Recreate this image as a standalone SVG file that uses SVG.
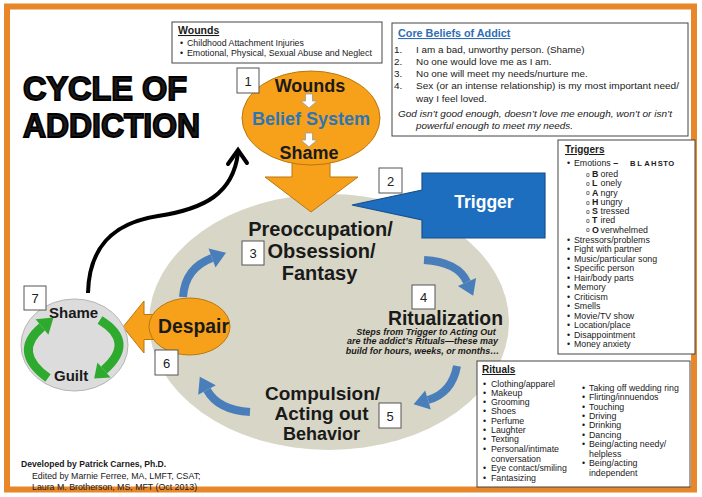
<svg xmlns="http://www.w3.org/2000/svg" width="702" height="497" viewBox="0 0 702 497">
<style>
.t{font-family:'Liberation Sans',Arial,sans-serif;fill:#1a1a1a}
.b{font-weight:bold}
.i{font-style:italic}
.u{text-decoration:underline}
.s9{font-size:8.8px}
.s10{font-size:9.9px}
.box{fill:#fff;stroke:#444;stroke-width:1}
.nb{fill:#fff;stroke:#555;stroke-width:1}
.num{font-family:'Liberation Sans',Arial,sans-serif;font-size:13px;fill:#222;text-anchor:middle}
.big{font-family:'Liberation Sans',Arial,sans-serif;font-weight:bold;fill:#1a1a1a;text-anchor:middle}
.org{fill:#F7A11B;stroke:#B9770E;stroke-width:1}
.blue{fill:none;stroke:#4A7EBB;stroke-width:8}
.bluehead{fill:#4A7EBB}
.green{fill:none;stroke:#2EAA2E;stroke-width:9}
.greenhead{fill:#2EAA2E}
.sub{font-family:'Liberation Sans',Arial,sans-serif;font-size:6.5px;fill:#1a1a1a}
</style>
<rect x="0" y="0" width="702" height="497" fill="#fff"/>
<rect x="7" y="6.5" width="687" height="483" fill="#fff" stroke="#E8872A" stroke-width="6"/>

<g id="title">
<text class="t b" x="23" y="100" font-size="34" stroke="#000" stroke-width="1.8" textLength="164" lengthAdjust="spacingAndGlyphs" fill="#000">CYCLE OF</text>
<text class="t b" x="23" y="137" font-size="34" stroke="#000" stroke-width="1.8" textLength="177" lengthAdjust="spacingAndGlyphs" fill="#000">ADDICTION</text>
</g>

<g id="wounds-box">
<rect class="box" x="172" y="22" width="210" height="41"/>
<text class="t b u" x="178" y="34" font-size="10.5">Wounds</text>
<text class="t s9" x="180" y="46">•</text><text class="t s9" x="187" y="46">Childhood Attachment Injuries</text>
<text class="t s9" x="180" y="56">•</text><text class="t s9" x="187" y="56">Emotional, Physical, Sexual Abuse and Neglect</text>
</g>

<g id="core-beliefs">
<rect class="box" x="392" y="23" width="296" height="113"/>
<text class="t b u" x="398" y="37" font-size="10.8" style="fill:#2F6DB5">Core Beliefs of Addict</text>
<text class="t s10" x="394" y="53">1.</text><text class="t s10" x="416" y="53">I am a bad, unworthy person. (Shame)</text>
<text class="t s10" x="394" y="65">2.</text><text class="t s10" x="416" y="65">No one would love me as I am.</text>
<text class="t s10" x="394" y="77">3.</text><text class="t s10" x="416" y="77">No one will meet my needs/nurture me.</text>
<text class="t s10" x="394" y="89">4.</text><text class="t s10" x="416" y="89" textLength="263" lengthAdjust="spacingAndGlyphs">Sex (or an intense relationship) is my most important need/</text>
<text class="t s10" x="416" y="102">way I feel loved.</text>
<text class="t s10 i" x="398" y="117" textLength="274" lengthAdjust="spacingAndGlyphs">God isn’t good enough, doesn’t love me enough, won’t or isn’t</text>
<text class="t s10 i" x="416" y="129">powerful enough to meet my needs.</text>
</g>

<g id="triggers-box">
<rect class="box" x="558" y="140" width="137" height="214"/>
<text class="t b u" x="565" y="153" font-size="10">Triggers</text>
<text class="t s9" x="567" y="166">•</text><text class="t s9" x="574" y="166">Emotions <tspan class="b">–</tspan></text>
<text class="t b" x="630 637.3 644.3 651 657.7 663.3 668.3" y="166" font-size="7.6">BLAHSTO</text>
<text class="sub" x="586" y="176.5">o</text><text class="t s9" y="177"><tspan x="592" class="b">B</tspan><tspan x="600.5">ored</tspan></text>
<text class="sub" x="586" y="185.8">o</text><text class="t s9" y="186.3"><tspan x="592" class="b">L</tspan><tspan x="600.5">onely</tspan></text>
<text class="sub" x="586" y="195">o</text><text class="t s9" y="195.5"><tspan x="592" class="b">A</tspan><tspan x="600.5">ngry</tspan></text>
<text class="sub" x="586" y="204.5">o</text><text class="t s9" y="205"><tspan x="592" class="b">H</tspan><tspan x="600.5">ungry</tspan></text>
<text class="sub" x="586" y="213.8">o</text><text class="t s9" y="214.3"><tspan x="592" class="b">S</tspan><tspan x="600.5">tressed</tspan></text>
<text class="sub" x="586" y="222.8">o</text><text class="t s9" y="223.3"><tspan x="592" class="b">T</tspan><tspan x="600.5">ired</tspan></text>
<text class="sub" x="586" y="232.2">o</text><text class="t s9" y="232.7"><tspan x="592" class="b">O</tspan><tspan x="600.5">verwhelmed</tspan></text>
<text class="t s9" x="567" y="242.7">•</text><text class="t s9" x="574" y="242.7">Stressors/problems</text>
<text class="t s9" x="567" y="252">•</text><text class="t s9" x="574" y="252">Fight with partner</text>
<text class="t s9" x="567" y="261.5">•</text><text class="t s9" x="574" y="261.5">Music/particular song</text>
<text class="t s9" x="567" y="271">•</text><text class="t s9" x="574" y="271">Specific person</text>
<text class="t s9" x="567" y="280.5">•</text><text class="t s9" x="574" y="280.5">Hair/body parts</text>
<text class="t s9" x="567" y="290">•</text><text class="t s9" x="574" y="290">Memory</text>
<text class="t s9" x="567" y="299.5">•</text><text class="t s9" x="574" y="299.5">Criticism</text>
<text class="t s9" x="567" y="309">•</text><text class="t s9" x="574" y="309">Smells</text>
<text class="t s9" x="567" y="318.5">•</text><text class="t s9" x="574" y="318.5">Movie/TV show</text>
<text class="t s9" x="567" y="328">•</text><text class="t s9" x="574" y="328">Location/place</text>
<text class="t s9" x="567" y="337.5">•</text><text class="t s9" x="574" y="337.5">Disappointment</text>
<text class="t s9" x="567" y="347">•</text><text class="t s9" x="574" y="347">Money anxiety</text>
</g>

<g id="cycle-ellipse">
<ellipse cx="329" cy="322" rx="180" ry="128" fill="#D8D6C6"/>
</g>

<g id="connectors">
<path class="blue" d="M183,297 Q185,268 212,258"/>
<polygon class="bluehead" points="226,252.8 215.5,267.4 208.5,248.6"/>
<path class="blue" d="M424,260 Q458,262 467,282"/>
<polygon class="bluehead" points="473.2,295.7 457.9,286.1 476.1,277.9"/>
<path class="blue" d="M457,366 Q452,393 428,400"/>
<polygon class="bluehead" points="413.6,404.2 425.2,390.4 430.8,409.6"/>
<path class="blue" d="M250,412 Q218,410 207,390"/>
<polygon class="bluehead" points="199.8,376.8 215.8,385.2 198.2,394.8"/>
<path d="M88,293 C89,248 112,223 158,216 C204,209 233,194 238,153" fill="none" stroke="#000" stroke-width="4"/>
<path d="M228,164 L238,150 L247,163" fill="none" stroke="#000" stroke-width="4" stroke-linecap="round"/>
<polygon class="org" points="292,158 330,158 330,177 358,177 311,212 265,177 292,177"/>
<polygon class="org" points="123,327 144,301 144,314.5 162,314.5 162,339.5 144,339.5 144,353"/>
</g>

<g id="rituals-box">
<rect class="box" x="477" y="361" width="213" height="126"/>
<text class="t b u" x="482" y="373" font-size="10">Rituals</text>
<text class="t s9" x="483" y="386.5">•</text><text class="t s9" x="491" y="386.5">Clothing/apparel</text>
<text class="t s9" x="483" y="395.8">•</text><text class="t s9" x="491" y="395.8">Makeup</text>
<text class="t s9" x="483" y="405.1">•</text><text class="t s9" x="491" y="405.1">Grooming</text>
<text class="t s9" x="483" y="414.4">•</text><text class="t s9" x="491" y="414.4">Shoes</text>
<text class="t s9" x="483" y="423.7">•</text><text class="t s9" x="491" y="423.7">Perfume</text>
<text class="t s9" x="483" y="433">•</text><text class="t s9" x="491" y="433">Laughter</text>
<text class="t s9" x="483" y="442.3">•</text><text class="t s9" x="491" y="442.3">Texting</text>
<text class="t s9" x="483" y="452">•</text><text class="t s9" x="491" y="452">Personal/intimate</text>
<text class="t s9" x="491" y="461.5">conversation</text>
<text class="t s9" x="483" y="471">•</text><text class="t s9" x="491" y="471">Eye contact/smiling</text>
<text class="t s9" x="483" y="480.5">•</text><text class="t s9" x="491" y="480.5">Fantasizing</text>
<text class="t s9" x="582" y="391">•</text><text class="t s9" x="589" y="391">Taking off wedding ring</text>
<text class="t s9" x="582" y="400.3">•</text><text class="t s9" x="589" y="400.3">Flirting/innuendos</text>
<text class="t s9" x="582" y="409.6">•</text><text class="t s9" x="589" y="409.6">Touching</text>
<text class="t s9" x="582" y="418.9">•</text><text class="t s9" x="589" y="418.9">Driving</text>
<text class="t s9" x="582" y="428.2">•</text><text class="t s9" x="589" y="428.2">Drinking</text>
<text class="t s9" x="582" y="437.5">•</text><text class="t s9" x="589" y="437.5">Dancing</text>
<text class="t s9" x="582" y="447">•</text><text class="t s9" x="589" y="447">Being/acting needy/</text>
<text class="t s9" x="589" y="456.5">helpless</text>
<text class="t s9" x="582" y="466">•</text><text class="t s9" x="589" y="466">Being/acting</text>
<text class="t s9" x="589" y="475.5">independent</text>
</g>

<g id="node-1-wounds-belief-shame">
<ellipse class="org" cx="311" cy="118" rx="69" ry="47"/>
<text class="big" x="310" y="92" font-size="18">Wounds</text>
<path d="M305.5,94 h7 v7 h4.5 l-8,7 l-8,-7 h4.5 z" fill="#fff" stroke="#999" stroke-width="0.8"/>
<text class="big" x="311" y="125" font-size="18" style="fill:#2E75B6">Belief System</text>
<path d="M305.5,133 h7 v7 h4.5 l-8,7 l-8,-7 h4.5 z" fill="#fff" stroke="#999" stroke-width="0.8"/>
<text class="big" x="309" y="159" font-size="18">Shame</text>
</g>

<g id="node-2-trigger">
<path d="M422,173 H545 V238 H422 V220 L352,205 L422,190 Z" fill="#1E6EC0" stroke="#17508C" stroke-width="1.2"/>
<text class="big" x="484" y="208" font-size="17.5" style="fill:#fff">Trigger</text>
</g>

<g id="node-6-despair">
<ellipse class="org" cx="189.5" cy="326.5" rx="40.5" ry="28.5"/>
<text class="t b" x="158" y="332.5" font-size="19.5" textLength="71" lengthAdjust="spacingAndGlyphs">Despair</text>
</g>

<g id="node-7-shame-guilt">
<ellipse cx="74.5" cy="345" rx="53.5" ry="46" fill="#DCDCDC" stroke="#B5B5B5" stroke-width="1"/>
<path class="green" d="M48,378 Q12,352 42,327"/>
<polygon class="greenhead" points="53.5,317.4 48.4,334.7 35.6,319.3"/>
<path class="green" d="M100,320 Q136,342 104,370"/>
<polygon class="greenhead" points="94.2,378.6 97.4,362.5 110.6,377.5"/>
<text class="t b" x="49" y="318" font-size="15">Shame</text>
<text class="t b" x="54" y="381" font-size="15">Guilt</text>
</g>

<g id="node-3-preoccupation">
<text class="big" x="320.5" y="236" font-size="20">Preoccupation/</text>
<text class="big" x="321.5" y="258" font-size="20" textLength="108" lengthAdjust="spacingAndGlyphs">Obsession/</text>
<text class="big" x="319.5" y="279.5" font-size="20">Fantasy</text>
</g>

<g id="node-4-ritualization">
<text class="big" x="445.5" y="324.5" font-size="20" textLength="115" lengthAdjust="spacingAndGlyphs">Ritualization</text>
<text class="t b i" x="426" y="335" font-size="9" text-anchor="middle">Steps from Trigger to Acting Out</text>
<text class="t b i" x="422.5" y="344.3" font-size="9" text-anchor="middle" textLength="151" lengthAdjust="spacingAndGlyphs">are the addict’s Rituals—these may</text>
<text class="t b i" x="422.5" y="353.6" font-size="9" text-anchor="middle">build for hours, weeks, or months…</text>
</g>

<g id="node-5-compulsion">
<text class="big" x="322.5" y="400" font-size="19">Compulsion/</text>
<text class="big" x="321.5" y="419.5" font-size="19">Acting out</text>
<text class="big" x="321.5" y="439.5" font-size="19" textLength="77" lengthAdjust="spacingAndGlyphs">Behavior</text>
</g>

<g id="number-boxes">
<rect class="nb" x="237" y="68" width="22" height="25"/><text class="num" x="248" y="85.5">1</text>
<rect class="nb" x="379" y="168" width="23" height="25"/><text class="num" x="390.5" y="185.5">2</text>
<rect class="nb" x="242" y="241" width="22" height="24"/><text class="num" x="253" y="258">3</text>
<rect class="nb" x="412" y="285" width="23" height="24"/><text class="num" x="423.5" y="302">4</text>
<rect class="nb" x="379" y="403" width="22" height="25"/><text class="num" x="390" y="420.5">5</text>
<rect class="nb" x="155" y="350" width="23" height="25"/><text class="num" x="166.5" y="367.5">6</text>
<rect class="nb" x="24" y="286" width="22" height="24"/><text class="num" x="35" y="303">7</text>
</g>

<g id="credits">
<text class="t b" x="21" y="467" font-size="8.6">Developed by Patrick Carnes, Ph.D.</text>
<text class="t s9" x="32" y="478.5">Edited by Marnie Ferree, MA, LMFT, CSAT;</text>
<text class="t s9" x="32" y="490">Laura M. Brotherson, MS, MFT (Oct 2013)</text>
</g>
</svg>
